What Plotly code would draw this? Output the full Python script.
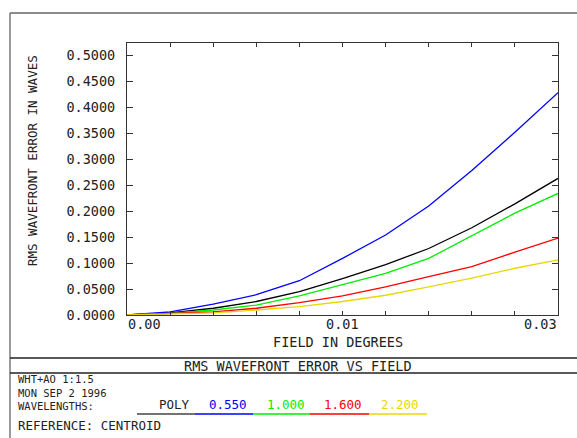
import plotly.graph_objects as go

# ---- data ----
field = [0.0, 0.0025, 0.005, 0.0075, 0.01, 0.0125, 0.015, 0.0175, 0.02, 0.0225, 0.025]
poly = [0.0, 0.004, 0.013, 0.026, 0.045, 0.070, 0.097, 0.128, 0.168, 0.214, 0.263]
w0550 = [0.0, 0.006, 0.021, 0.039, 0.066, 0.109, 0.154, 0.210, 0.278, 0.352, 0.428]
w1000 = [0.0, 0.003, 0.0096, 0.019, 0.037, 0.058, 0.080, 0.109, 0.153, 0.196, 0.234]
w1600 = [0.0, 0.0025, 0.006, 0.013, 0.024, 0.037, 0.054, 0.074, 0.093, 0.121, 0.148]
w2200 = [0.0, 0.002, 0.004, 0.0096, 0.016, 0.026, 0.038, 0.054, 0.071, 0.090, 0.106]

series_names = ["POLY", "0.550", "1.000", "1.600", "2.200"]
series_values = [poly, w0550, w1000, w1600, w2200]
series_colors = ["#000000", "#0000ff", "#00ee00", "#ff0000", "#e8d800"]

y_ticks = [0.0, 0.05, 0.10, 0.15, 0.20, 0.25, 0.30, 0.35, 0.40, 0.45, 0.50]
x_tick_labels = [(0.0, "0.00", "left"), (0.0125, "0.01", "center"), (0.025, "0.03", "right")]
info_lines = ["WHT+AO 1:1.5", "MON SEP 2 1996", "WAVELENGTHS:"]

# ---- layout geometry (pixels) ----
W, H = 577, 438
L, R, T, B = 127, 19, 43, 123
PW, PH = W - L - R, H - T - B
Y0PIX = H - B

def px(x):
    return (x - L) / PW

def py(y):
    return (Y0PIX - y) / PH

FONT = "DejaVu Sans Mono"
TXT = "#222222"
FS = 13.5

fig = go.Figure()
for name, vals, col in zip(series_names, series_values, series_colors):
    fig.add_trace(go.Scatter(x=field, y=vals, mode="lines", name=name,
                             line=dict(color=col, width=1.3), showlegend=False))

fig.update_layout(
    width=W, height=H,
    margin=dict(l=L, r=R, t=T, b=B, pad=0),
    paper_bgcolor="white", plot_bgcolor="white",
    font=dict(family=FONT, size=FS, color=TXT),
    xaxis=dict(range=[0, 0.025], tick0=0, dtick=0.0025, ticks="inside", ticklen=4,
               tickcolor="#333", showticklabels=False, showgrid=False, zeroline=False,
               showline=True, linecolor="#333", linewidth=1.2, mirror="ticks"),
    yaxis=dict(range=[0, 0.5237], tickvals=y_ticks, tickformat=".4f", ticks="inside",
               ticklen=6, tickcolor="#333", showgrid=False, zeroline=False,
               showline=True, linecolor="#333", linewidth=1.2, mirror="ticks",
               ticklabelstandoff=8, tickfont=dict(family=FONT, size=FS, color=TXT)),
)

shapes = []
def hline(x0, x1, y, color="#444", width=1.3):
    shapes.append(dict(type="line", xref="paper", yref="paper",
                       x0=px(x0), x1=px(x1), y0=py(y), y1=py(y),
                       line=dict(color=color, width=width)))

def vline(x, y0, y1, color="#555", width=1.3):
    shapes.append(dict(type="line", xref="paper", yref="paper",
                       x0=px(x), x1=px(x), y0=py(y0), y1=py(y1),
                       line=dict(color=color, width=width)))

hline(10, 577, 13, color="#666")
vline(10, 13, 438, color="#666")
hline(10, 577, 358, color="#222")
hline(10, 577, 373, color="#222")

# legend underline segments
seg_edges = [137, 195, 253, 310, 369, 427]
seg_colors = ["#444444", "#0000ff", "#00ee00", "#ff0000", "#e8d800"]
for i, c in enumerate(seg_colors):
    hline(seg_edges[i], seg_edges[i + 1], 414, color=c, width=1.5)

fig.update_layout(shapes=shapes)

ann = []
def text(x, y, s, xanchor="left", color=TXT, size=FS, angle=0):
    ann.append(dict(x=px(x), y=py(y), xref="paper", yref="paper", text=s,
                    showarrow=False, xanchor=xanchor, yanchor="middle", align="left",
                    textangle=angle, borderpad=0,
                    font=dict(family=FONT, size=size, color=color)))

for xv, lab, anc in x_tick_labels:
    text(L + xv / 0.025 * PW, 324, lab, xanchor=anc)
text(338, 342, "FIELD IN DEGREES", xanchor="center")
text(32, 161, "RMS WAVEFRONT ERROR IN WAVES", xanchor="center", angle=-90, size=12.5)
text(298, 366, "RMS WAVEFRONT ERROR VS FIELD", xanchor="center")
text(17, 393, "<br>".join(info_lines), size=10.5)
text(17, 425, "REFERENCE: CENTROID", size=12.5)

legend_centers = [174, 228, 286, 343, 400]
for name, col, cx in zip(series_names, series_colors, legend_centers):
    text(cx, 404, name, xanchor="center", color=(TXT if name == "POLY" else col), size=12.5)

fig.update_layout(annotations=ann)

fig.write_html("out.html", config={"displayModeBar": False},
               post_script="document.body.style.margin='0px';")
